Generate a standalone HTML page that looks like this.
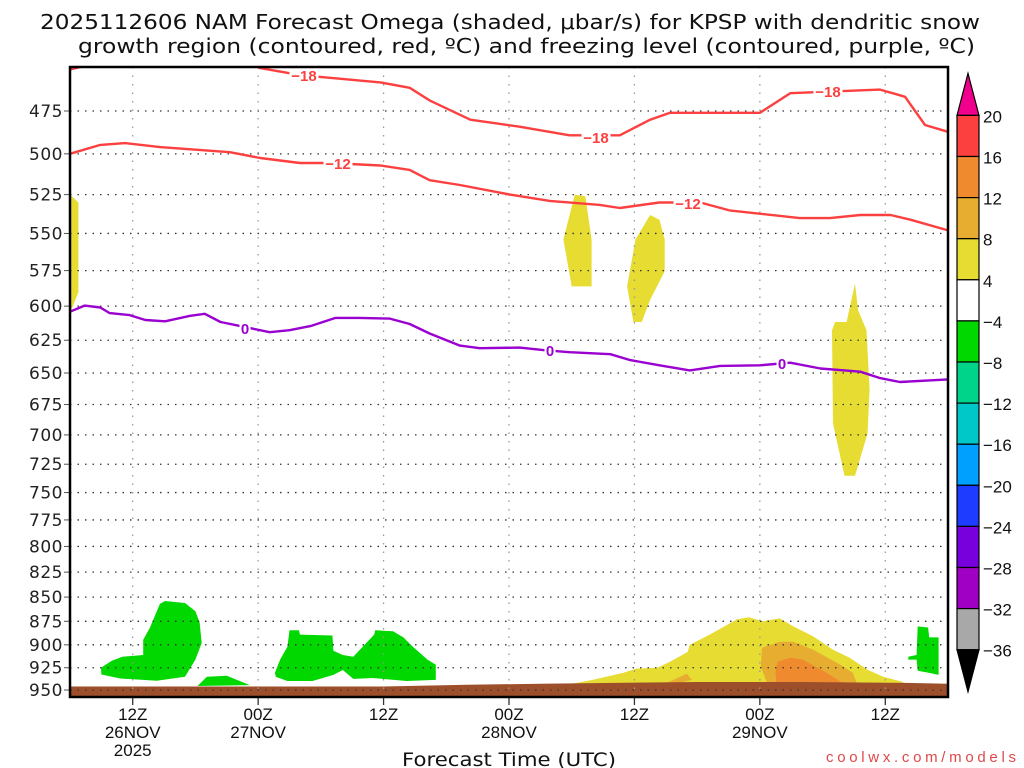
<!DOCTYPE html>
<html><head><meta charset="utf-8"><style>
body{margin:0;background:#fff;}
svg{display:block;font-family:"Liberation Sans",sans-serif;}
</style></head><body>
<svg id="chart" width="1024" height="768" viewBox="0 0 1024 768">
<text x="40" y="29" textLength="940" lengthAdjust="spacingAndGlyphs" font-size="20" fill="#111" font-family="DejaVu Sans, sans-serif">2025112606 NAM Forecast Omega (shaded, μbar/s) for KPSP with dendritic snow</text>
<text x="78" y="53" textLength="897" lengthAdjust="spacingAndGlyphs" font-size="20" fill="#111" font-family="DejaVu Sans, sans-serif">growth region (contoured, red, ºC) and freezing level (contoured, purple, ºC)</text>
<g id="plot"></g>
<g id="cbar"></g>
<text x="402" y="766" textLength="214" lengthAdjust="spacingAndGlyphs" font-size="19" fill="#111" font-family="DejaVu Sans, sans-serif">Forecast Time (UTC)</text>
<text x="826" y="762" textLength="190" lengthAdjust="spacing" font-size="15" fill="#e04848">coolwx.com/models</text>
</svg>
<script>
const pLevels=[475,500,525,550,575,600,625,650,675,700,725,750,775,800,825,850,875,900,925,950];
const xTickHours=[6,18,30,42,54,66,78];
const xTickLabels=[["12Z","26NOV","2025"],["00Z","27NOV"],["12Z"],["00Z","28NOV"],["12Z"],["00Z","29NOV"],["12Z"]];
const m18Hours=[0,1.5];
const m18P=[452,450];
const m18bHours=[18,22,29.7,32.5,34.4,38.3,43,47.8,52.6,55.5,57.4,66,68.9,77.5,79.9,81.8,84];
const m18bP=[451,455,459,462,469,480,484,489,489,480,476,476,465,463,467,483,487];
const m12Hours=[0,2.9,5.3,8.6,15.3,18.2,22,24.9,29.7,32.5,34.4,37.3,42.1,45.9,50.7,52.6,56.4,60.3,63.1,69.8,72.7,75.6,78.5,80.4,84];
const m12P=[500,494.7,493.6,496,499,502.5,505.5,505.5,507,509.7,516,519,525,529,531.5,533.5,530,530,535,540,540,538,538,541,548];
const zHours=[0,1.4,2.9,3.8,5.7,7.2,9.1,11.5,12.9,14.4,16.3,19.1,21,23,25.4,27.7,30.6,32.5,34.4,37.3,39.2,43,45.4,47.8,51.7,53.6,56.4,59.3,62.2,66,68.9,71.8,75.6,77.5,79.4,84];
const zP=[604,599.6,601,605,606.5,610,611,607,605.5,611.5,614.5,619,617.5,614.5,608.5,608.5,609,613,620,629,631,630.5,632.5,634,635.5,640,644,648,644.5,644,642,646.5,649,654,657,655];
const sfcHours=[0,10,20,30,38,45,52,60,70,80,84];
const sfcP=[946,946,946,946,944,943,942,941,941,942,943];
// shaded regions: [hour, pressure] pairs
const yellowLeft=[[0,525],[0.8,530],[0.8,590],[0,605]];
const yellowA=[[48.3,525],[49.3,526],[49.9,554],[49.9,586],[48,586],[47.2,554]];
const yellowB=[[55.5,538],[56.4,541],[56.9,554],[56.9,575.5],[55.5,595.5],[54.7,611.5],[53.9,611.5],[53.3,586],[54.1,554]];
const yellowC=[[75.1,584],[75.4,603],[76.2,617.5],[76.5,663],[76.3,699],[75.1,735],[74.1,735],[73,690.5],[72.9,617.5],[73.2,611.5],[74.3,611.5]];
const yellowBig=[[46.9,945.5],[50,938.6],[52.9,930.7],[54.2,926],[56.2,925],[57.4,918.5],[59.1,907.6],[59.3,900],[61.2,889],[63.8,873],[64.9,870.8],[66.3,875],[67.9,872],[69.2,880.4],[71.1,891],[73,905.4],[74.6,914],[76.3,927.3],[77.8,935],[79.7,941],[79.7,945.5]];
const gold1=[[66.2,903.3],[67.9,896.7],[69.2,896.7],[71.1,905.4],[73.7,921.7],[74.9,930.7],[75.3,943],[66.7,943],[66.1,923.9]];
const gold2=[[57.1,942],[59,931.8],[59.5,938.6],[57.4,944.5]];
const orange1=[[67.7,918.5],[68.9,914],[70.1,916],[72.4,930.7],[74,943],[67.6,943],[67.5,929.6]];
const green1=[[2.97,925],[4,917.4],[5,913],[7,911],[7,894.6],[7.65,881.5],[8.6,857],[9.1,854],[11,856],[12,864.5],[12.4,876],[12.6,898],[12,916],[11,935],[8.3,939.5],[4.8,937],[3,932.5]];
const green2=[[12.2,945.5],[13.1,935],[15,934],[17.2,944.5]];
const green3=[[19.6,930.7],[20.1,916],[20.8,902],[21,884.5],[21.9,884.5],[22,889],[25.1,890],[25.2,906.5],[26.1,911],[27.1,913],[28,902],[29.1,889],[29.2,884.5],[30.9,885.5],[31.9,892],[32.8,902],[34.2,916],[35,921.7],[35,938.6],[32.2,939.8],[29,936.4],[27.1,937.5],[26.1,927.5],[25.2,933],[23.2,939.8],[20.8,939.8],[19.7,935.2]];
const green4=[[81.1,880.4],[82.1,881.5],[82.2,892],[83.1,892],[83.1,933],[82.2,930.7],[81.1,928.4],[81,916],[80.2,916],[80.2,913],[81,911]];
const cbLabels=["20","16","12","8","4","−4","−8","−12","−16","−20","−24","−28","−32","−36"];
const cbColors=["#fc4040","#f08a2e","#e6ad30","#e6dc32","#ffffff","#00d800","#00d38a","#00c8c8","#00a0ff","#1e3cff","#7800dc","#a000c4","#a8a8a8"];

const X0=70,X1=948,Y475=111,PX=579,HMAX=84;
const sx=h=>X0+h*(X1-X0)/HMAX;
const sy=p=>Y475+(Math.log(p)-Math.log(475))/Math.log(2)*PX;
const NS="http://www.w3.org/2000/svg";
const plot=document.getElementById('plot');
function mk(tag,at,parent){const e=document.createElementNS(NS,tag);for(const k in at)e.setAttribute(k,at[k]);(parent||plot).appendChild(e);return e;}
const ptsStr=a=>a.map(q=>sx(q[0]).toFixed(1)+","+sy(q[1]).toFixed(1)).join(" ");
function poly(arr,fill,name){const e=mk('polygon',{points:ptsStr(arr),fill:fill});

}
poly(yellowLeft,"#e6dc32","omega-yellow-left");
poly(yellowA,"#e6dc32","omega-yellow-a");
poly(yellowB,"#e6dc32","omega-yellow-b");
poly(yellowC,"#e6dc32","omega-yellow-c");
poly(yellowBig,"#e6dc32","omega-yellow-lower");
poly(gold1,"#e6ad30","omega-gold-1");
poly(gold2,"#e6ad30","omega-gold-2");
poly(orange1,"#f08a2e","omega-orange");
poly(green1,"#00d800","omega-green-1");
poly(green2,"#00d800","omega-green-2");
poly(green3,"#00d800","omega-green-3");
poly(green4,"#00d800","omega-green-4");
{const a=sfcHours.map((h,i)=>[h,sfcP[i]]);const s=ptsStr(a)+` ${X1},697 ${X0},697`;
const g=mk('polygon',{points:s,fill:"#9c4f2a"});

}
pLevels.forEach(p=>{const y=sy(p);
const l=mk('line',{x1:X0,x2:X1,y1:y,y2:y,stroke:"#333","stroke-width":1.3,"stroke-dasharray":"1.5 6"});


const t=mk('line',{x1:X0-6,x2:X0,y1:y,y2:y,stroke:"#555","stroke-width":1});


const tx=mk('text',{x:X0-7,y:y+6,"text-anchor":"end","font-size":17,fill:"#222","font-family":"DejaVu Sans, sans-serif","letter-spacing":"0.5"});tx.textContent=p;

});
xTickHours.forEach((h,i)=>{const x=sx(h);
const l=mk('line',{x1:x,x2:x,y1:67,y2:697,stroke:"#999","stroke-width":1.3,"stroke-dasharray":"1.5 7"});


const t=mk('line',{x1:x,x2:x,y1:697,y2:705,stroke:"#333","stroke-width":1.3});


xTickLabels[i].forEach((s,j)=>{const tx=mk('text',{x:x,y:720+j*18,"text-anchor":"middle","font-size":17,fill:"#111"});tx.textContent=s;

});});
const clip=mk('clipPath',{id:"pc"});mk('rect',{x:X0,y:67,width:X1-X0,height:630},clip);
function line(hs,ps,col,name){const d=hs.map((h,i)=>(i?"L":"M")+sx(h).toFixed(1)+","+sy(ps[i]).toFixed(1)).join("");
const e=mk('path',{d:d,fill:"none",stroke:col,"stroke-width":2.4,"clip-path":"url(#pc)","stroke-linejoin":"round"});

}
line(m18Hours,m18P,"#fc4040","contour-minus18-left");
line(m18bHours,m18bP,"#fc4040","contour-minus18");
line(m12Hours,m12P,"#fc4040","contour-minus12");
line(zHours,zP,"#9a00d0","freezing-level");
function lab(x,y,s,col){const w=s.length*9+2;
const r=mk('rect',{x:x-w/2,y:y-8,width:w,height:15,fill:"#fff"});


const t=mk('text',{x:x,y:y+6,"text-anchor":"middle","font-size":15,"font-weight":"bold",fill:col});t.textContent=s;

}
lab(304,75,"−18","#fc4040");lab(596,137,"−18","#fc4040");lab(828,91,"−18","#fc4040");
lab(338,163,"−12","#fc4040");lab(688,203,"−12","#fc4040");
lab(245,328,"0","#9a00d0");lab(550,350,"0","#9a00d0");lab(782,363,"0","#9a00d0");
const fr=mk('rect',{x:X0,y:67,width:X1-X0,height:630,fill:"none",stroke:"#000","stroke-width":2.5});


const cb=document.getElementById('cbar');
const CX=957,CW=22,CT=115.4,CH=41.1;
const tt=mk('polygon',{points:`${CX},${CT} ${CX+CW},${CT} ${CX+CW/2},${CT-42}`,fill:"#f0008c",stroke:"#000","stroke-width":1.2},cb);


cbColors.forEach((c,i)=>{const r=mk('rect',{x:CX,y:CT+i*CH,width:CW,height:CH,fill:c,stroke:"#000","stroke-width":1.2},cb);

});
const bt=CT+cbColors.length*CH;
const ba=mk('polygon',{points:`${CX},${bt} ${CX+CW},${bt} ${CX+CW/2},${bt+42}`,fill:"#000",stroke:"#000","stroke-width":1.2},cb);


cbLabels.forEach((s,i)=>{const t=mk('text',{x:983,y:CT+i*CH+7,"font-size":17,fill:"#111"},cb);t.textContent=s;

});
</script>
</body></html>
